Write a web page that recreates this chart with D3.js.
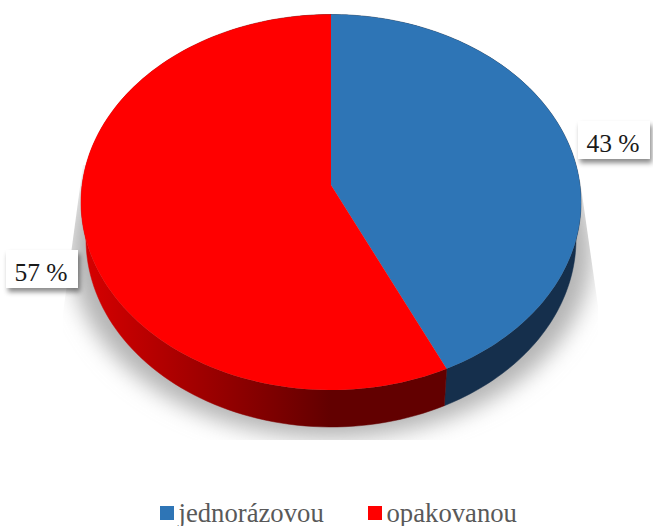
<!DOCTYPE html>
<html><head><meta charset="utf-8">
<script src="https://cdn.jsdelivr.net/npm/d3@7/dist/d3.min.js"></script>
<style>html,body{margin:0;padding:0;background:#fff}svg{display:block}</style>
</head><body><svg id="c" width="653" height="526"></svg>
<script>
const categories = ["jednorázovou", "opakovanou"];
const values = [43, 57];
const labels = ["43 %", "57 %"];
const topColors = ["#2e75b6", "#ff0000"];

const svg = d3.select("#c");
const defs = svg.append("defs");
const cx = 331, apexY = 185, topY = 14.5, botY = 390, halfW = 250, depth = 37;

// Perspective mapping of a flat disc into the picture
const persp = (topY + botY - 2 * apexY) / (botY - topY);
const B = topY * (1 + persp) - apexY;
const C = halfW * Math.sqrt(1 - persp * persp);
function rim(a, shrink, dy) {
  const d = 1 + persp * Math.cos(a);
  return [cx + shrink * C * Math.sin(a) / d, (apexY + B * Math.cos(a)) / d + dy];
}
const sampled = (a0, a1, s, dy) => d3.range(0, 121).map(i => rim(a0 + (a1 - a0) * i / 120, s, dy));
const line = d3.line();

const arcs = d3.pie().sort(null)(values);

// Shadow
const blur = defs.append("filter").attr("id", "blur").attr("x", "-20%").attr("y", "-20%").attr("width", "140%").attr("height", "140%");
blur.append("feGaussianBlur").attr("stdDeviation", 11);
defs.append("clipPath").attr("id", "shadowClip").append("path")
  .attr("d", line([[83,165],[580,180],[598,306],[598,440],[63,440],[63,313]]) + "Z");
svg.append("g").attr("clip-path", "url(#shadowClip)")
  .append("path")
  .attr("d", line(sampled(0, 2 * Math.PI, 1.045, 48)) + "Z")
  .attr("fill", "#b4b4b4")
  .attr("filter", "url(#blur)");

// Side wall
const redSide = defs.append("linearGradient").attr("id", "redSide")
  .attr("gradientUnits", "userSpaceOnUse").attr("x1", 85).attr("x2", 330).attr("y1", 0).attr("y2", 0);
redSide.append("stop").attr("offset", 0).attr("stop-color", "#d60000");
redSide.append("stop").attr("offset", 1).attr("stop-color", "#620000");
const sideFill = ["#152f4c", "url(#redSide)"];
svg.selectAll("path.side").data(arcs).join("path").attr("class", "side")
  .attr("d", d => line(sampled(d.startAngle, d.endAngle, 1, 0).concat(sampled(d.startAngle, d.endAngle, 0.98, depth).reverse())) + "Z")
  .attr("fill", (d, i) => sideFill[i])
  .attr("stroke", (d, i) => sideFill[i]).attr("stroke-width", 0.5);

// Top face
svg.selectAll("path.top").data(arcs).join("path").attr("class", "top")
  .attr("d", d => line([[cx, apexY]].concat(sampled(d.startAngle, d.endAngle, 1, 0))) + "Z")
  .attr("fill", (d, i) => topColors[i]);

// Data labels
const drop = defs.append("filter").attr("id", "drop").attr("x", "-30%").attr("y", "-30%").attr("width", "160%").attr("height", "180%");
drop.append("feDropShadow").attr("dx", 2).attr("dy", 4).attr("stdDeviation", 2.5).attr("flood-color", "#000").attr("flood-opacity", 0.45);
const labelBoxes = [[578, 121, 72, 38], [6, 250, 72, 38]];
const lg = svg.selectAll("g.lab").data(labels).join("g").attr("class", "lab");
lg.append("rect")
  .attr("x", (d, i) => labelBoxes[i][0]).attr("y", (d, i) => labelBoxes[i][1])
  .attr("width", (d, i) => labelBoxes[i][2]).attr("height", (d, i) => labelBoxes[i][3])
  .attr("fill", "#fff").attr("filter", "url(#drop)");
lg.append("text")
  .attr("x", (d, i) => labelBoxes[i][0] + labelBoxes[i][2] / 2 - 1)
  .attr("y", (d, i) => labelBoxes[i][1] + 31)
  .attr("text-anchor", "middle")
  .attr("font-family", "'Liberation Serif'").attr("font-size", 25.5).attr("fill", "#1a1a1a")
  .text(d => d);

// Legend
const legendX = [160, 368];
const lgd = svg.selectAll("g.leg").data(categories).join("g").attr("class", "leg");
lgd.append("rect").attr("x", (d, i) => legendX[i]).attr("y", 506).attr("width", 14).attr("height", 14)
  .attr("fill", (d, i) => topColors[i]);
lgd.append("text").attr("x", (d, i) => legendX[i] + 18.5).attr("y", 521.5)
  .attr("font-family", "'Liberation Serif'").attr("font-size", 26.7).attr("fill", "#595959")
  .text(d => d);
</script></body></html>
